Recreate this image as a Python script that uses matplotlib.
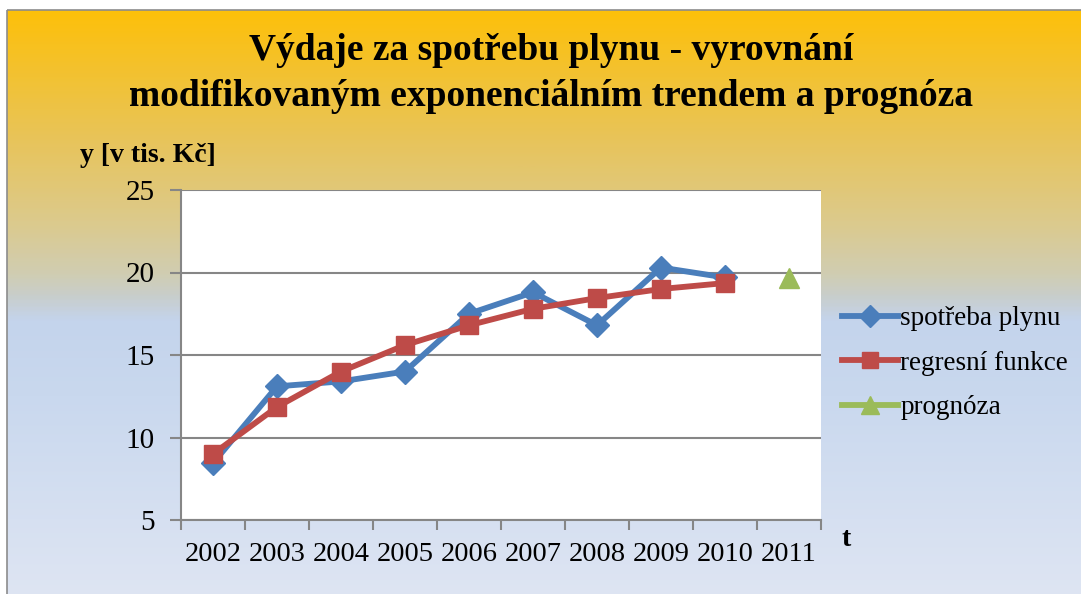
import numpy as np
import matplotlib
matplotlib.use("Agg")
import matplotlib.pyplot as plt
from matplotlib.colors import LinearSegmentedColormap
from matplotlib.patches import Rectangle

# ---- data ----
years = ["2002", "2003", "2004", "2005", "2006", "2007", "2008", "2009", "2010", "2011"]
spotreba = [8.45, 13.1, 13.4, 14.0, 17.5, 18.8, 16.8, 20.3, 19.7]
regrese = [9.0, 11.85, 14.0, 15.6, 16.8, 17.8, 18.45, 19.0, 19.36]
prognoza_year = ["2011"]
prognoza = [19.65]
yticks = [5, 10, 15, 20, 25]

title1 = "Výdaje za spotřebu plynu - vyrovnání"
title2 = "modifikovaným exponenciálním trendem a prognóza"
ylabel = "y [v tis. Kč]"
xlabel = "t"

W, H = 1081, 594
fig = plt.figure(figsize=(W / 100, H / 100), dpi=100)
fig.patch.set_facecolor("white")

plt.rcParams["font.family"] = ["Liberation Serif", "DejaVu Serif"]

# ---- background gradient ----
bg = fig.add_axes([0, 0, 1, 1], zorder=-5)
bg.set_xlim(0, W)
bg.set_ylim(H, 0)
bg.axis("off")
stops = [
    (0.00, (253 / 255, 192 / 255, 10 / 255)),
    (0.22, (232 / 255, 196 / 255, 90 / 255)),
    (0.36, (220 / 255, 202 / 255, 140 / 255)),
    (0.45, (208 / 255, 205 / 255, 178 / 255)),
    (0.49, (200 / 255, 206 / 255, 205 / 255)),
    (0.53, (196 / 255, 212 / 255, 236 / 255)),
    (0.66, (201 / 255, 216 / 255, 238 / 255)),
    (1.00, (222 / 255, 229 / 255, 243 / 255)),
]
cmap = LinearSegmentedColormap.from_list("bgg", stops)
grad = np.linspace(0, 1, 400).reshape(-1, 1)
bg.imshow(grad, cmap=cmap, aspect="auto", extent=(7, W + 2, H + 2, 10), interpolation="bilinear")
bg.add_patch(Rectangle((7, 10), W, H, fill=False, edgecolor="#8c8c8c", linewidth=1.2))

# ---- main axes ----
left, right, top, bottom = 181, 821, 190, 520
ax = fig.add_axes([left / W, 1 - bottom / H, (right - left) / W, (bottom - top) / H])
ax.set_facecolor("white")

x = np.arange(len(years))
ax.plot(x[:len(spotreba)], spotreba, color="#4A7EBB", lw=4.2, marker="D", ms=12,
        label="spotřeba plynu", zorder=3)
ax.plot(x[:len(regrese)], regrese, color="#BE4B48", lw=4.2, marker="s", ms=13.5,
        label="regresní funkce", zorder=4)
px = [years.index(v) for v in prognoza_year]
ax.plot(px, prognoza, color="#9BBB59", lw=4.2, marker="^", ms=14, linestyle="-",
        label="prognóza", zorder=4)

ax.set_xlim(-0.5, len(years) - 0.5)
ax.set_ylim(yticks[0], yticks[-1])
ax.set_yticks(yticks)
ax.set_yticklabels([str(v) for v in yticks])
ax.set_xticks(np.arange(-0.5, len(years), 1.0))
ax.set_xticklabels([])
ax.set_xticks(x, minor=True)
ax.set_xticklabels(years, minor=True)
ax.tick_params(axis="x", which="major", length=7, width=1.5, color="#868686", direction="out")
ax.tick_params(axis="x", which="minor", length=0, pad=16, labelsize=20.5)
ax.tick_params(axis="y", length=8, width=1.5, color="#868686", labelsize=21, pad=11)
ax.grid(axis="y", color="#868686", lw=1.5)
ax.set_axisbelow(True)
for s in ["top", "right"]:
    ax.spines[s].set_visible(False)
for s in ["left", "bottom"]:
    ax.spines[s].set_color("#868686")
    ax.spines[s].set_linewidth(1.5)

# ---- texts ----
fig.text(551 / W, 1 - 50 / H, title1, ha="center", va="center", fontsize=27, fontweight="bold")
fig.text(551 / W, 1 - 97 / H, title2, ha="center", va="center", fontsize=27, fontweight="bold")
fig.text(148 / W, 1 - 156 / H, ylabel, ha="center", va="center", fontsize=20, fontweight="bold")
fig.text(846 / W, 1 - 540 / H, xlabel, ha="center", va="center", fontsize=20, fontweight="bold")

# ---- legend ----
leg = fig.legend(loc="center left", bbox_to_anchor=(842 / W, 1 - 363 / H), frameon=False,
                 fontsize=19.5, handlelength=2.05, handletextpad=0.1, labelspacing=0.72,
                 borderpad=0, borderaxespad=0, markerscale=0.9)

fig.savefig("out.png", dpi=100)
